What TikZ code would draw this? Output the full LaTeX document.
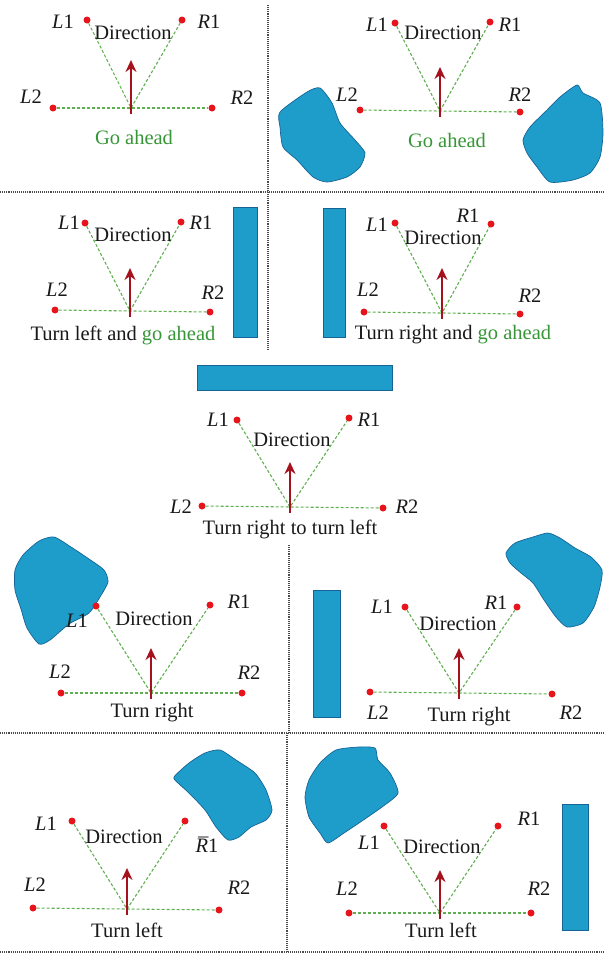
\documentclass[tikz,border=0pt]{standalone}
\usepackage{fontspec}
\setmainfont{Liberation Serif}
\usetikzlibrary{arrows.meta}

\definecolor{obstblue}{RGB}{30,156,202}
\definecolor{obstedge}{RGB}{22,100,150}
\definecolor{guidegreen}{RGB}{95,175,80}
\definecolor{capgreen}{RGB}{55,150,55}
\definecolor{dotred}{RGB}{232,20,28}
\definecolor{headred}{RGB}{165,18,30}

\begin{document}
\begin{tikzpicture}[x=1pt, y=-1pt,
    dot/.style={circle, fill=dotred, inner sep=0pt, minimum size=7pt},
    guide/.style={draw=guidegreen, densely dashed, line width=1.1pt},
    heading/.style={draw=headred, line width=2.7pt, -{Stealth[length=12pt, width=11pt]}},
    lbl/.style={font=\fontsize{20.5}{22}\selectfont, text=black!90, inner sep=1pt},
    obstacle/.style={fill=obstblue, draw=obstedge, line width=0.7pt},
    divider/.style={draw=black!70, densely dotted, line width=1.1pt}]
    \useasboundingbox (0,0) rectangle (605,954);

    % Dividers
    \draw[divider] (268,5) -- (268,350);
    \draw[divider] (0,192) -- (605,192);
    \draw[divider] (289,545) -- (289,733);
    \draw[divider] (0,733) -- (605,733);
    \draw[divider] (287,733) -- (287,952);
    \draw[divider] (0,952) -- (605,952);

    % Panel 1 - go ahead, no obstacle
    \node[dot] (p1L1) at (87,20) {};
    \node[dot] (p1R1) at (182,20) {};
    \node[dot] (p1L2) at (53,108) {};
    \node[dot] (p1R2) at (212,108) {};
    \coordinate (p1c) at (131,108);
    \coordinate (p1tail) at (131,114);
    \coordinate (p1tip) at (131,60);
    \draw[guide] (p1L2) -- (p1R2);
    \draw[guide] (p1L1) -- (p1c) -- (p1R1);
    \draw[heading] (p1tail) -- (p1tip);
    \node[lbl] (p1dir) at (133,33) {Direction};
    \node[lbl] (p1L1t) at (63,22) {\textit{L}1};
    \node[lbl] (p1R1t) at (209,22) {\textit{R}1};
    \node[lbl] (p1L2t) at (31,97) {\textit{L}2};
    \node[lbl] (p1R2t) at (242,98) {\textit{R}2};
    \node[lbl, text=capgreen] (p1cap) at (134,137) {Go ahead};

    % Panel 2 - go ahead between two obstacles
    \path[obstacle] plot[smooth cycle, tension=0.4] coordinates {(280,112) (307,92) (320,88) (332,103) (340,123) (355,140) (365,153) (360,167) (347,177) (327,182) (313,177) (297,160) (283,147) (280,127)};
    \path[obstacle] plot[smooth cycle, tension=0.4] coordinates {(530,127) (547,110) (560,97) (577,85) (583,93) (600,103) (603,133) (600,157) (590,173) (573,180) (550,182) (537,167) (527,153) (523,140)};
    \node[dot] (p2L1) at (395,23) {};
    \node[dot] (p2R1) at (490,22) {};
    \node[dot] (p2L2) at (360,110) {};
    \node[dot] (p2R2) at (520,112) {};
    \coordinate (p2c) at (440,111);
    \coordinate (p2tail) at (440,117);
    \coordinate (p2tip) at (440,67);
    \draw[guide] (p2L2) -- (p2R2);
    \draw[guide] (p2L1) -- (p2c) -- (p2R1);
    \draw[heading] (p2tail) -- (p2tip);
    \node[lbl] (p2dir) at (443,33) {Direction};
    \node[lbl] (p2L1t) at (377,25) {\textit{L}1};
    \node[lbl] (p2R1t) at (510,25) {\textit{R}1};
    \node[lbl] (p2L2t) at (347,95) {\textit{L}2};
    \node[lbl] (p2R2t) at (520,95) {\textit{R}2};
    \node[lbl, text=capgreen] (p2cap) at (447,140) {Go ahead};

    % Panel 3 - wall on the right
    \path[obstacle] (233,207) rectangle (257,337);
    \node[dot] (p3L1) at (85,223) {};
    \node[dot] (p3R1) at (181,222) {};
    \node[dot] (p3L2) at (55,310) {};
    \node[dot] (p3R2) at (210,312) {};
    \coordinate (p3c) at (130,311);
    \coordinate (p3tail) at (130,317);
    \coordinate (p3tip) at (130,268);
    \draw[guide] (p3L2) -- (p3R2);
    \draw[guide] (p3L1) -- (p3c) -- (p3R1);
    \draw[heading] (p3tail) -- (p3tip);
    \node[lbl] (p3dir) at (133,235) {Direction};
    \node[lbl] (p3L1t) at (69,223) {\textit{L}1};
    \node[lbl] (p3R1t) at (201,223) {\textit{R}1};
    \node[lbl] (p3L2t) at (57,290) {\textit{L}2};
    \node[lbl] (p3R2t) at (213,293) {\textit{R}2};
    \node[lbl] (p3cap) at (123,335) {Turn left and \textcolor{capgreen}{go ahead}};

    % Panel 4 - wall on the left
    \path[obstacle] (323,208) rectangle (345,337);
    \node[dot] (p4L1) at (395,223) {};
    \node[dot] (p4R1) at (491,224) {};
    \node[dot] (p4L2) at (364,312) {};
    \node[dot] (p4R2) at (520,314) {};
    \coordinate (p4c) at (442,313);
    \coordinate (p4tail) at (442,319);
    \coordinate (p4tip) at (442,268);
    \draw[guide] (p4L2) -- (p4R2);
    \draw[guide] (p4L1) -- (p4c) -- (p4R1);
    \draw[heading] (p4tail) -- (p4tip);
    \node[lbl] (p4dir) at (443,238) {Direction};
    \node[lbl] (p4L1t) at (377,225) {\textit{L}1};
    \node[lbl] (p4R1t) at (468,216) {\textit{R}1};
    \node[lbl] (p4L2t) at (368,290) {\textit{L}2};
    \node[lbl] (p4R2t) at (530,296) {\textit{R}2};
    \node[lbl] (p4cap) at (453,335) {Turn right and \textcolor{capgreen}{go ahead}};

    % Panel 5 - wall straight ahead
    \path[obstacle] (197,365) rectangle (392,390);
    \node[dot] (p5L1) at (237,420) {};
    \node[dot] (p5R1) at (349,418) {};
    \node[dot] (p5L2) at (202,506) {};
    \node[dot] (p5R2) at (383,508) {};
    \coordinate (p5c) at (290,507);
    \coordinate (p5tail) at (290,513);
    \coordinate (p5tip) at (290,462);
    \draw[guide] (p5L2) -- (p5R2);
    \draw[guide] (p5L1) -- (p5c) -- (p5R1);
    \draw[heading] (p5tail) -- (p5tip);
    \node[lbl] (p5dir) at (292,440) {Direction};
    \node[lbl] (p5L1t) at (218,420) {\textit{L}1};
    \node[lbl] (p5R1t) at (369,420) {\textit{R}1};
    \node[lbl] (p5L2t) at (181,507) {\textit{L}2};
    \node[lbl] (p5R2t) at (407,507) {\textit{R}2};
    \node[lbl] (p5cap) at (290,529) {Turn right to turn left};

    % Panel 6 - obstacle upper left
    \path[obstacle] plot[smooth cycle, tension=0.4] coordinates {(15,570) (23,555) (39,541) (54,537) (71,547) (89,559) (104,570) (108,582) (100,597) (89,613) (69,624) (50,640) (39,644) (27,628) (21,609) (15,590)};
    \node[dot] (p6L1) at (96,606) {};
    \node[dot] (p6R1) at (210,605) {};
    \node[dot] (p6L2) at (61,693) {};
    \node[dot] (p6R2) at (242,693) {};
    \coordinate (p6c) at (151,693);
    \coordinate (p6tail) at (151,699);
    \coordinate (p6tip) at (151,648);
    \draw[guide] (p6L2) -- (p6R2);
    \draw[guide] (p6L1) -- (p6c) -- (p6R1);
    \draw[heading] (p6tail) -- (p6tip);
    \node[lbl] (p6dir) at (154,619) {Direction};
    \node[lbl] (p6L1t) at (77,621) {\textit{L}1};
    \node[lbl] (p6R1t) at (239,602) {\textit{R}1};
    \node[lbl] (p6L2t) at (60,672) {\textit{L}2};
    \node[lbl] (p6R2t) at (249,673) {\textit{R}2};
    \node[lbl] (p6cap) at (152,713) {Turn right};

    % Panel 7 - wall left, obstacle upper right
    \path[obstacle] (313,590) rectangle (340,717);
    \path[obstacle] plot[smooth cycle, tension=0.4] coordinates {(506,553) (515,543) (533,537) (548,533) (560,538) (575,548) (591,557) (602,570) (600,587) (594,607) (583,623) (567,627) (556,617) (544,600) (533,583) (521,573) (510,563)};
    \node[dot] (p7L1) at (405,607) {};
    \node[dot] (p7R1) at (517,607) {};
    \node[dot] (p7L2) at (370,692) {};
    \node[dot] (p7R2) at (552,694) {};
    \coordinate (p7c) at (459,693);
    \coordinate (p7tail) at (459,699);
    \coordinate (p7tip) at (459,648);
    \draw[guide] (p7L2) -- (p7R2);
    \draw[guide] (p7L1) -- (p7c) -- (p7R1);
    \draw[heading] (p7tail) -- (p7tip);
    \node[lbl] (p7dir) at (458,624) {Direction};
    \node[lbl] (p7L1t) at (382,607) {\textit{L}1};
    \node[lbl] (p7R1t) at (496,603) {\textit{R}1};
    \node[lbl] (p7L2t) at (378,713) {\textit{L}2};
    \node[lbl] (p7R2t) at (571,713) {\textit{R}2};
    \node[lbl] (p7cap) at (469,717) {Turn right};

    % Panel 8 - obstacle upper right
    \path[obstacle] plot[smooth cycle, tension=0.4] coordinates {(174,777) (189,763) (205,753) (220,750) (236,760) (255,773) (266,790) (272,810) (266,820) (251,827) (239,837) (228,840) (216,827) (205,810) (189,793) (178,783)};
    \node[dot] (p8L1) at (72,821) {};
    \node[dot] (p8R1) at (185,821) {};
    \node[dot] (p8L2) at (33,908) {};
    \node[dot] (p8R2) at (219,910) {};
    \coordinate (p8c) at (127,909);
    \coordinate (p8tail) at (127,915);
    \coordinate (p8tip) at (127,868);
    \draw[guide] (p8L2) -- (p8R2);
    \draw[guide] (p8L1) -- (p8c) -- (p8R1);
    \draw[heading] (p8tail) -- (p8tip);
    \node[lbl] (p8dir) at (124,837) {Direction};
    \node[lbl] (p8L1t) at (46,824) {\textit{L}1};
    \node[lbl] (p8R1t) at (207,845) {\rlap{\kern1pt\textit{\char"00AF}}\textit{R}1};
    \node[lbl] (p8L2t) at (35,885) {\textit{L}2};
    \node[lbl] (p8R2t) at (239,888) {\textit{R}2};
    \node[lbl] (p8cap) at (127,930) {Turn left};

    % Panel 9 - obstacle upper left, wall right
    \path[obstacle] plot[smooth cycle, tension=0.4] coordinates {(309,780) (305,797) (309,817) (320,833) (328,843) (344,833) (359,823) (382,807) (398,793) (390,773) (378,760) (375,748) (359,747) (336,750) (320,763)};
    \path[obstacle] (562,804) rectangle (588,930);
    \node[dot] (p9L1) at (384,826) {};
    \node[dot] (p9R1) at (498,826) {};
    \node[dot] (p9L2) at (349,913) {};
    \node[dot] (p9R2) at (531,913) {};
    \coordinate (p9c) at (440,913);
    \coordinate (p9tail) at (440,919);
    \coordinate (p9tip) at (440,870);
    \draw[guide] (p9L2) -- (p9R2);
    \draw[guide] (p9L1) -- (p9c) -- (p9R1);
    \draw[heading] (p9tail) -- (p9tip);
    \node[lbl] (p9dir) at (442,847) {Direction};
    \node[lbl] (p9L1t) at (369,843) {\textit{L}1};
    \node[lbl] (p9R1t) at (529,819) {\textit{R}1};
    \node[lbl] (p9L2t) at (347,889) {\textit{L}2};
    \node[lbl] (p9R2t) at (539,889) {\textit{R}2};
    \node[lbl] (p9cap) at (441,930) {Turn left};
\end{tikzpicture}
\end{document}
